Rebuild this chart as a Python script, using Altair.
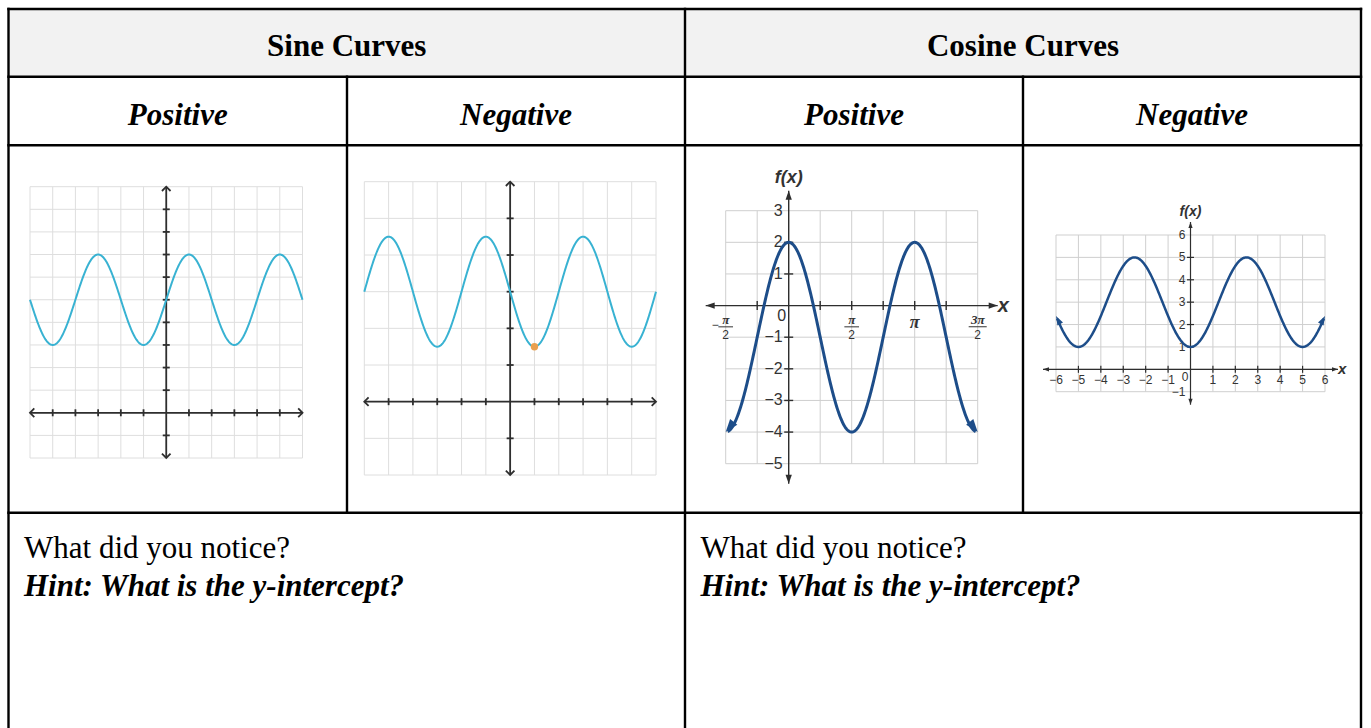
import math
import numpy as np
import pandas as pd
import altair as alt

# ---------------- content ----------------
GROUP_TITLES = ["Sine Curves", "Cosine Curves"]
SIGN_TITLES = ["Positive", "Negative", "Positive", "Negative"]
PROMPT = "What did you notice?"
HINT = "Hint: What is the y-intercept?"

# each panel graphs y = MID + AMP * WAVE(2*pi*x / PERIOD)
WAVE = ["sin", "sin", "cos", "cos"]
AMP = [2, -1.5, 3, -2]
MID = [5, 3, -1, 3]
PERIOD = [4, 4, math.pi, 5]

# grid window of each panel
X_MIN = [-6, -6, -math.pi / 2, -6]
X_MAX = [6, 6, 3 * math.pi / 2, 6]
Y_MIN = [-2, -2, -5, -1]
Y_MAX = [10, 6, 3, 6]
X_STEP = [1, 1, math.pi / 4, 1]
Y_STEP = [1, 1, 1, 1]

# highlighted point on the negative sine curve
MARK_X = [1]
MARK_Y = [1.5]

# tick labels of the positive cosine panel
COS_POS_Y_TICKS = [3, 2, 1, -1, -2, -3, -4, -5]
COS_POS_X_FRAC = [-math.pi / 2, math.pi / 2, 3 * math.pi / 2]
COS_POS_X_NUMER = ["π", "π", "3π"]
COS_POS_X_DENOM = ["2", "2", "2"]
COS_POS_X_SIGN = ["−", "", ""]
COS_POS_X_PLAIN = [math.pi]
COS_POS_X_PLAIN_LABEL = ["π"]

# tick labels of the negative cosine panel
COS_NEG_Y_TICKS = [6, 5, 4, 3, 2, 1, -1]
COS_NEG_X_TICKS = [-6, -5, -4, -3, -2, -1, 1, 2, 3, 4, 5, 6]

# ---------------- layout (pixels) ----------------
W, H = 1371, 728
T_LEFT, T_RIGHT, T_TOP, T_BOTTOM = 8.5, 1361, 9, 745
ROW_Y = [9, 76.8, 145.2, 512.8]
MID_X = 685
SUB_X = [347, 1023]
# left, right, top, bottom of each plotting grid
PANEL_PX = [
    (30, 302.5, 186.7, 458),
    (364.3, 656, 181.7, 475),
    (725.7, 977.7, 210.7, 463.7),
    (1056, 1325, 235, 391.7),
]
AXIS_OVERHANG = [0, 0, 20, 13]

SERIF = "Liberation Serif"
SANS = "Liberation Sans"
LIGHT_CURVE = "#38b2d2"
DARK_CURVE = "#1d4d89"
AXIS_DARK = "#2e2e2e"
LABEL = "#333333"

TICK_V = "M0,-1L0,1"
TICK_H = "M-1,0L1,0"
CHEVRON = "M-1,1L0,0L1,1"
TRIANGLE = "M0,0L-0.7,2L0.7,2Z"


def fmt(v):
    return ("−" + str(abs(v))) if v < 0 else str(v)


def scales(i):
    l, r, t, b = PANEL_PX[i]
    xs = alt.Scale(domain=[X_MIN[i], X_MAX[i]], range=[l, r], nice=False, zero=False)
    ys = alt.Scale(domain=[Y_MIN[i], Y_MAX[i]], range=[b, t], nice=False, zero=False)
    return xs, ys


def units_per_px(i):
    l, r, t, b = PANEL_PX[i]
    return (X_MAX[i] - X_MIN[i]) / (r - l), (Y_MAX[i] - Y_MIN[i]) / (b - t)


def XE(field, i):
    return alt.X(field, scale=scales(i)[0], axis=None)


def YE(field, i):
    return alt.Y(field, scale=scales(i)[1], axis=None)


def wave_expr(i):
    return f"{MID[i]} + ({AMP[i]}) * {WAVE[i]}(2 * PI * datum.x / {PERIOD[i]})"


def grid(i, color):
    nx = round((X_MAX[i] - X_MIN[i]) / X_STEP[i])
    ny = round((Y_MAX[i] - Y_MIN[i]) / Y_STEP[i])
    vx = pd.DataFrame({"x": [X_MIN[i] + k * X_STEP[i] for k in range(nx + 1)],
                       "y0": Y_MIN[i], "y1": Y_MAX[i]})
    hy = pd.DataFrame({"y": [Y_MIN[i] + k * Y_STEP[i] for k in range(ny + 1)],
                       "x0": X_MIN[i], "x1": X_MAX[i]})
    v = alt.Chart(vx).mark_rule(color=color, strokeWidth=1).encode(
        x=XE("x:Q", i), y=YE("y0:Q", i), y2="y1:Q")
    h = alt.Chart(hy).mark_rule(color=color, strokeWidth=1).encode(
        y=YE("y:Q", i), x=XE("x0:Q", i), x2="x1:Q")
    return [v, h]


def axes(i, width, tick_len, head_shape, head_size, head_filled):
    ux, uy = units_per_px(i)
    ox, oy = AXIS_OVERHANG[i] * ux, AXIS_OVERHANG[i] * uy
    xlo, xhi = X_MIN[i] - ox, X_MAX[i] + ox
    ylo, yhi = Y_MIN[i] - oy, Y_MAX[i] + oy
    xa = alt.Chart(pd.DataFrame({"x0": [xlo], "x1": [xhi], "y": [0]})).mark_rule(
        color=AXIS_DARK, strokeWidth=width).encode(x=XE("x0:Q", i), x2="x1:Q", y=YE("y:Q", i))
    ya = alt.Chart(pd.DataFrame({"y0": [ylo], "y1": [yhi], "x": [0]})).mark_rule(
        color=AXIS_DARK, strokeWidth=width).encode(y=YE("y0:Q", i), y2="y1:Q", x=XE("x:Q", i))
    nx = round((X_MAX[i] - X_MIN[i]) / X_STEP[i])
    ny = round((Y_MAX[i] - Y_MIN[i]) / Y_STEP[i])
    xt = [X_MIN[i] + k * X_STEP[i] for k in range(1, nx)]
    yt = [Y_MIN[i] + k * Y_STEP[i] for k in range(1, ny)]
    xt = [v for v in xt if abs(v) > 1e-9]
    yt = [v for v in yt if abs(v) > 1e-9]
    tsize = (2 * tick_len) ** 2
    xtk = alt.Chart(pd.DataFrame({"x": xt, "y": 0})).mark_point(
        shape=TICK_V, size=tsize, filled=False, color=AXIS_DARK, strokeWidth=width, opacity=1
    ).encode(x=XE("x:Q", i), y=YE("y:Q", i))
    ytk = alt.Chart(pd.DataFrame({"y": yt, "x": 0})).mark_point(
        shape=TICK_H, size=tsize, filled=False, color=AXIS_DARK, strokeWidth=width, opacity=1
    ).encode(x=XE("x:Q", i), y=YE("y:Q", i))
    heads = pd.DataFrame({"x": [xlo, xhi, 0, 0], "y": [0, 0, ylo, yhi], "a": [270, 90, 180, 0]})
    hd = alt.Chart(heads).mark_point(
        shape=head_shape, size=head_size, filled=head_filled, color=AXIS_DARK,
        strokeWidth=width, opacity=1
    ).encode(x=XE("x:Q", i), y=YE("y:Q", i), angle=alt.Angle("a:Q", scale=None))
    return [xa, ya, xtk, ytk, hd]


def curve(i, color, width, trim=0.0):
    xv = np.linspace(X_MIN[i] + trim, X_MAX[i] - trim, 500)
    return alt.Chart(pd.DataFrame({"x": xv})).transform_calculate(y=wave_expr(i)).mark_line(
        color=color, strokeWidth=width, strokeJoin="round"
    ).encode(x=XE("x:Q", i), y=YE("y:Q", i), order="x:Q")


def curve_heads(i, angles, size):
    df = pd.DataFrame({"x": [X_MIN[i], X_MAX[i]], "a": angles})
    return alt.Chart(df).transform_calculate(y=wave_expr(i)).mark_point(
        shape=TRIANGLE, size=size, filled=True, color=DARK_CURVE, opacity=1
    ).encode(x=XE("x:Q", i), y=YE("y:Q", i), angle=alt.Angle("a:Q", scale=None))


def text_layer(i, df, **kw):
    base = dict(font=SANS, color=LABEL, baseline="middle")
    base.update(kw)
    return alt.Chart(df).mark_text(**base).encode(x=XE("x:Q", i), y=YE("y:Q", i), text="t:N")


# ---------------- table ----------------
segs = [(T_LEFT, T_RIGHT, y, y) for y in ROW_Y]
segs += [(T_LEFT, T_LEFT, T_TOP, T_BOTTOM), (T_RIGHT, T_RIGHT, T_TOP, T_BOTTOM),
         (MID_X, MID_X, T_TOP, T_BOTTOM)]
segs += [(x, x, ROW_Y[1], ROW_Y[3]) for x in SUB_X]
seg_df = pd.DataFrame(segs, columns=["x0", "x1", "y0", "y1"])

header_bg = alt.Chart(pd.DataFrame({"x0": [T_LEFT], "x1": [T_RIGHT], "y0": [ROW_Y[0]], "y1": [ROW_Y[1]]})).mark_rect(
    color="#f2f2f2").encode(
    x=alt.X("x0:Q", scale=None), x2="x1:Q", y=alt.Y("y0:Q", scale=None), y2="y1:Q")

table_lines = alt.Chart(seg_df).mark_rule(color="black", strokeWidth=2.4, strokeCap="square").encode(
    x=alt.X("x0:Q", scale=None), x2="x1:Q", y=alt.Y("y0:Q", scale=None), y2="y1:Q")

col_edges = [T_LEFT, SUB_X[0], MID_X, SUB_X[1], T_RIGHT]
group_df = pd.DataFrame({"t": GROUP_TITLES,
                         "px": [(T_LEFT + MID_X) / 2, (MID_X + T_RIGHT) / 2], "py": 55.5})
sign_df = pd.DataFrame({"t": SIGN_TITLES,
                        "px": [(col_edges[k] + col_edges[k + 1]) / 2 for k in range(4)], "py": 124.5})
prompt_df = pd.DataFrame({"t": [PROMPT, PROMPT], "px": [T_LEFT + 15.5, MID_X + 15.5], "py": 558})
hint_df = pd.DataFrame({"t": [HINT, HINT], "px": [T_LEFT + 15.5, MID_X + 15.5], "py": 595.5})


def table_text(df, **kw):
    return alt.Chart(df).mark_text(font=SERIF, fontSize=31, color="black", baseline="alphabetic", **kw).encode(
        x=alt.X("px:Q", scale=None), y=alt.Y("py:Q", scale=None), text="t:N")


table = [header_bg, table_lines,
         table_text(group_df, fontWeight="bold", align="center"),
         table_text(sign_df, fontWeight="bold", fontStyle="italic", align="center"),
         table_text(prompt_df, align="left"),
         table_text(hint_df, fontWeight="bold", fontStyle="italic", align="left")]

# ---------------- panel 1: positive sine ----------------
p1 = alt.layer(*grid(0, "#dedede"),
               *axes(0, 1.8, 3.5, CHEVRON, 74, False),
               curve(0, LIGHT_CURVE, 2))

# ---------------- panel 2: negative sine ----------------
mark_pt = alt.Chart(pd.DataFrame({"x": MARK_X, "y": MARK_Y})).mark_circle(
    color="#e9a04f", size=55, opacity=1).encode(x=XE("x:Q", 1), y=YE("y:Q", 1))
p2 = alt.layer(*grid(1, "#dedede"),
               *axes(1, 1.8, 3.5, CHEVRON, 74, False),
               curve(1, LIGHT_CURVE, 2),
               mark_pt)

# ---------------- panel 3: positive cosine ----------------
p3_ylab = pd.DataFrame({"x": 0, "y": COS_POS_Y_TICKS, "t": [fmt(v) for v in COS_POS_Y_TICKS]})
p3_zero = pd.DataFrame({"x": [0], "y": [0], "t": ["0"]})
p3_num = pd.DataFrame({"x": COS_POS_X_FRAC, "y": 0, "t": COS_POS_X_NUMER})
p3_den = pd.DataFrame({"x": COS_POS_X_FRAC, "y": 0, "t": COS_POS_X_DENOM})
p3_sign = pd.DataFrame({"x": COS_POS_X_FRAC, "y": 0, "t": COS_POS_X_SIGN})
p3_pi = pd.DataFrame({"x": COS_POS_X_PLAIN, "y": 0, "t": COS_POS_X_PLAIN_LABEL})
p3_bar = pd.DataFrame({"x": COS_POS_X_FRAC, "y": 0, "w": [len(n) for n in COS_POS_X_NUMER]})
p3_fx = pd.DataFrame({"x": [0], "y": [Y_MAX[2]], "t": ["f(x)"]})
p3_xl = pd.DataFrame({"x": [X_MAX[2]], "y": [0], "t": ["x"]})

bar_short = alt.Chart(p3_bar[p3_bar.w == 1]).mark_point(
    shape="M-1,2.9L1,2.9", size=215, filled=False, color=LABEL, strokeWidth=1, opacity=1
).encode(x=XE("x:Q", 2), y=YE("y:Q", 2))
bar_long = alt.Chart(p3_bar[p3_bar.w > 1]).mark_point(
    shape="M-1,2.35L1,2.35", size=325, filled=False, color=LABEL, strokeWidth=1, opacity=1
).encode(x=XE("x:Q", 2), y=YE("y:Q", 2))

p3 = alt.layer(*grid(2, "#cfcfcf"),
               *axes(2, 1.4, 4.5, TRIANGLE, 81, True),
               text_layer(2, p3_ylab, fontSize=16, align="right", dx=-6),
               text_layer(2, p3_zero, fontSize=16, align="center", dx=-7, dy=10),
               text_layer(2, p3_num, font=SERIF, fontStyle="italic", fontWeight="bold", fontSize=13,
                          align="center", dy=14),
               bar_short, bar_long,
               text_layer(2, p3_den, fontSize=12, align="center", dy=29.5),
               text_layer(2, p3_sign, fontSize=12, align="center", dx=-10.5, dy=19.5),
               text_layer(2, p3_pi, font=SERIF, fontStyle="italic", fontWeight="bold", fontSize=18,
                          align="center", dy=17),
               text_layer(2, p3_fx, fontStyle="italic", fontWeight="bold", fontSize=18, align="center",
                          baseline="alphabetic", dy=-27.5),
               text_layer(2, p3_xl, fontStyle="italic", fontWeight="bold", fontSize=20, align="left",
                          dx=20),
               curve(2, DARK_CURVE, 3, trim=0.05),
               curve_heads(2, [218, 142], 169))

# ---------------- panel 4: negative cosine ----------------
p4_ylab = pd.DataFrame({"x": 0, "y": COS_NEG_Y_TICKS, "t": [fmt(v) for v in COS_NEG_Y_TICKS]})
p4_xlab = pd.DataFrame({"x": COS_NEG_X_TICKS, "y": 0, "t": [fmt(v) for v in COS_NEG_X_TICKS]})
p4_zero = pd.DataFrame({"x": [0], "y": [0], "t": ["0"]})
p4_fx = pd.DataFrame({"x": [0], "y": [Y_MAX[3]], "t": ["f(x)"]})
p4_xl = pd.DataFrame({"x": [X_MAX[3]], "y": [0], "t": ["x"]})

p4 = alt.layer(*grid(3, "#cfcfcf"),
               *axes(3, 1.2, 3.5, TRIANGLE, 36, True),
               text_layer(3, p4_ylab, fontSize=12, align="right", dx=-5),
               text_layer(3, p4_xlab, fontSize=12, align="center", dy=11),
               text_layer(3, p4_zero, fontSize=12, align="center", dx=-5.5, dy=7.5),
               text_layer(3, p4_fx, fontStyle="italic", fontWeight="bold", fontSize=14, align="center",
                          baseline="alphabetic", dy=-19),
               text_layer(3, p4_xl, fontStyle="italic", fontWeight="bold", fontSize=15, align="left",
                          dx=13),
               curve(3, DARK_CURVE, 2.5, trim=0.05),
               curve_heads(3, [332, 28], 81))

chart = alt.layer(*table, p1, p2, p3, p4).resolve_scale(
    x="independent", y="independent"
).properties(
    width=W, height=H, padding=0, background="white",
    autosize=alt.AutoSizeParams(type="none"),
).configure_view(stroke=None)

chart.save("out.html", embed_options={"renderer": "svg", "actions": False})
